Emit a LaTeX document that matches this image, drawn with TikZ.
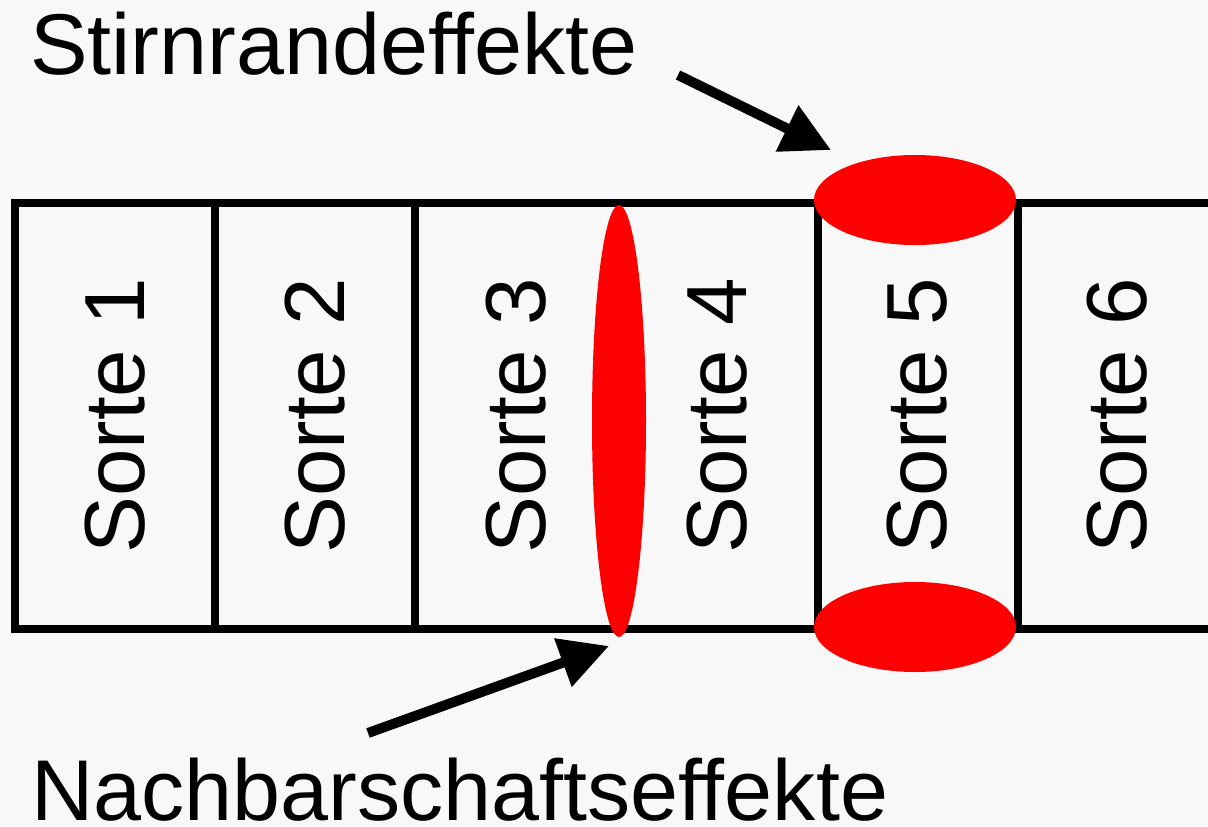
\documentclass[tikz,border=0pt]{standalone}
\usepackage{fontspec}
\setmainfont{Liberation Sans}
\usetikzlibrary{arrows.meta,shapes.geometric}
\definecolor{bg}{HTML}{F8F8F8}
\definecolor{effred}{HTML}{FF0000}
\begin{document}
\begin{tikzpicture}[x=0.75pt,y=-0.75pt,
  frame/.style={line width=5.6pt,draw=black},
  sortelabel/.style={rotate=90,inner sep=0pt,font=\fontsize{64}{70}\selectfont},
  biglabel/.style={inner sep=0pt,anchor=base west,font=\fontsize{64.7}{70}\selectfont},
  spot/.style={ellipse,fill=effred,draw=none,inner sep=0pt},
  pointer/.style={line width=7.5pt,-{Triangle[length=36.75pt,width=36.75pt]}}]
\fill[bg] (0,0) rectangle (1208,826);
\useasboundingbox (0,0) rectangle (1208,826);
% strip of sorts
\draw[frame] (1208,203) -- (15,203) -- (15,629) -- (1208,629);
\foreach \xx in {215,415,818,1018}{
  \draw[frame] (\xx,203) -- (\xx,629);
}
% labels of the sorts
\node[sortelabel] (s1) at (115,416) {Sorte 1};
\node[sortelabel] (s2) at (315,416) {Sorte 2};
\node[sortelabel] (s3) at (516,416) {Sorte 3};
\node[sortelabel] (s4) at (717,416) {Sorte 4};
\node[sortelabel] (s5) at (917,416) {Sorte 5};
\node[sortelabel] (s6) at (1117,416) {Sorte 6};
% red effect zones
\node[spot,minimum width=40.5pt,minimum height=324pt] (nb) at (619,421) {};
\node[spot,minimum width=151.5pt,minimum height=67.5pt] (st) at (915,200) {};
\node[spot,minimum width=151.5pt,minimum height=67.5pt] (sb) at (915,627) {};
% captions
\node[biglabel] (cap1) at (30,74) {Stirnrandeffekte};
\node[biglabel] (cap2) at (31,820) {Nachbarschaftseffekte};
% arrows
\coordinate (a1s) at (678,75);
\coordinate (a1e) at (831,150);
\coordinate (a2s) at (368,733);
\coordinate (a2e) at (609,646);
\draw[pointer] (a1s) -- (a1e);
\draw[pointer] (a2s) -- (a2e);
\end{tikzpicture}
\end{document}
